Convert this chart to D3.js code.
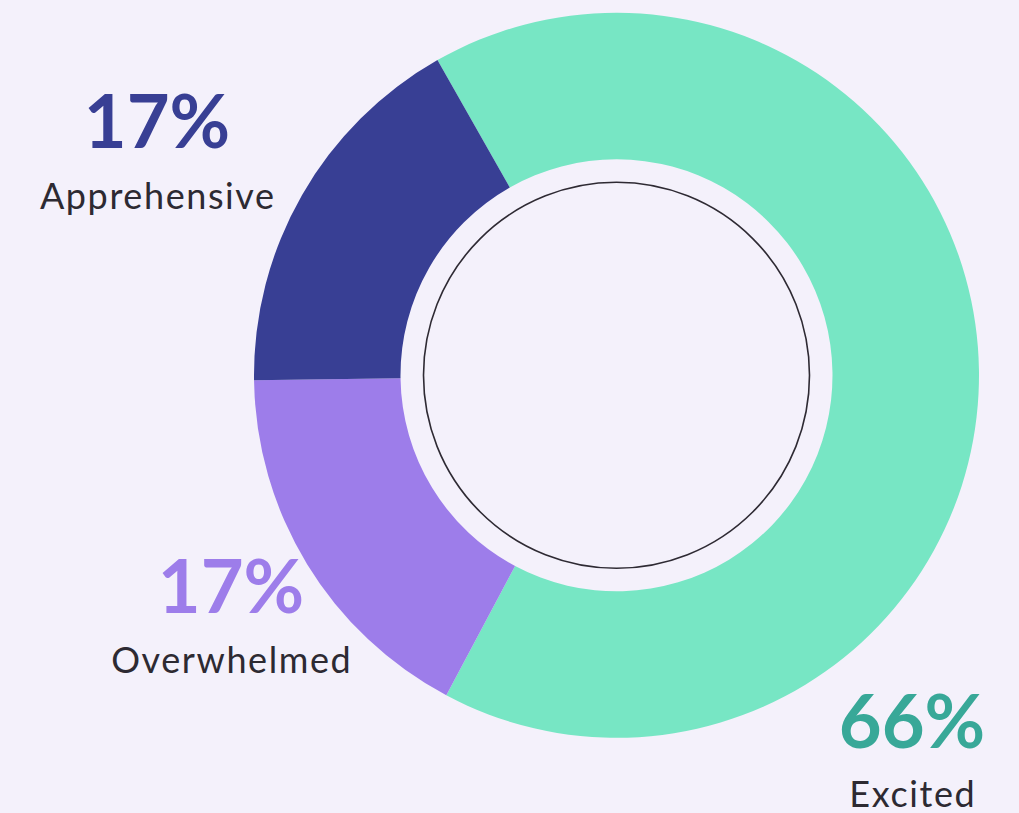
<!DOCTYPE html>
<html>
<head>
<meta charset="utf-8">
<script src="https://cdn.jsdelivr.net/npm/d3@7"></script>
<style>
  html, body { margin: 0; padding: 0; background: #f4f1fb; }
  svg { display: block; }
  .pct { font-family: Lato, "Noto Sans", sans-serif; font-weight: 700; }
  .name { font-family: Lato, "Noto Sans", sans-serif; font-weight: 400; fill: #2d2a32; }
</style>
</head>
<body>
<script>
// slices, clockwise from the top-left edge of the green slice
const categories = ["Excited", "Overwhelmed", "Apprehensive"];
const shares = [66, 17, 17];
const pctLabels = ["66%", "17%", "17%"];
const sliceColors = ["#77e6c4", "#9d7dea", "#383f94"];
const labelColors = ["#38a898", "#9d7dea", "#383f94"];

var svgWidth = 1019;
var svgHeight = 813;

// donut geometry
var cx = 616.5, cy = 375.3;
var outerR = 362.5, innerR = 216, ringR = 193;
var startDeg = -29.6;

// label anchor points (centre of text block)
var labelPos = {
  Excited: { x: 912, yPct: 748, yName: 807 },
  Overwhelmed: { x: 231, yPct: 613, yName: 673 },
  Apprehensive: { x: 157, yPct: 148, yName: 209 }
};

var svg = d3.select("body")
  .append("svg")
  .attr("width", svgWidth)
  .attr("height", svgHeight);

svg.append("rect")
  .attr("width", svgWidth)
  .attr("height", svgHeight)
  .attr("fill", "#f4f1fb");

var data = categories.map((c, i) => ({ name: c, value: shares[i], pct: pctLabels[i], color: sliceColors[i], lc: labelColors[i] }));

var pie = d3.pie()
  .sort(null)
  .value(d => d.value)
  .startAngle(startDeg * Math.PI / 180)
  .endAngle((startDeg + 360) * Math.PI / 180);

var arc = d3.arc()
  .innerRadius(innerR)
  .outerRadius(outerR);

var donut = svg.append("g")
  .attr("transform", `translate(${cx}, ${cy})`);

donut.selectAll("path")
  .data(pie(data))
  .enter()
  .append("path")
  .attr("d", arc)
  .attr("fill", d => d.data.color);

// thin inner ring
donut.append("circle")
  .attr("r", ringR)
  .attr("fill", "none")
  .attr("stroke", "#2e2a33")
  .attr("stroke-width", 1.6);

// labels
var labels = svg.selectAll(".lbl")
  .data(data)
  .enter()
  .append("g")
  .attr("class", "lbl");

labels.append("text")
  .attr("class", "pct")
  .attr("x", d => labelPos[d.name].x)
  .attr("y", d => labelPos[d.name].yPct)
  .attr("text-anchor", "middle")
  .attr("font-size", "74px")
  .attr("fill", d => d.lc)
  .text(d => d.pct);

labels.append("text")
  .attr("class", "name")
  .attr("x", d => labelPos[d.name].x + 0.8)
  .attr("y", d => labelPos[d.name].yName)
  .attr("text-anchor", "middle")
  .attr("font-size", "36px")
  .attr("letter-spacing", "1.6px")
  .text(d => d.name);
</script>
</body>
</html>
